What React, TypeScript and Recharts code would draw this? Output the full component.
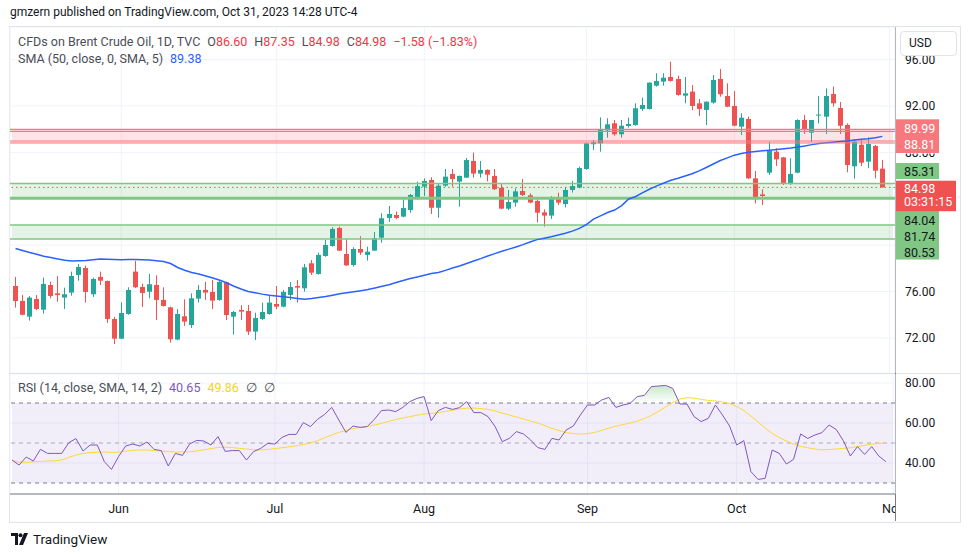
import React from 'react';
import {
  ComposedChart,
  Bar,
  Line,
  Area,
  XAxis,
  YAxis,
  CartesianGrid,
  ReferenceLine,
  ReferenceArea,
} from 'recharts';

// daily candles, mid May -> Oct 31 2023
const OPEN = [
  76.48, 75.19, 73.84, 75.36, 74.44, 76.57, 75.85, 75.48, 75.91, 77.43, 78.03, 75.77, 77.26, 76.91, 73.64, 71.94,
  74.07, 77.72, 76.4, 75.99, 76.57, 75.28, 74.64, 71.86, 73.87, 73.12, 75.39, 76.14, 75.97, 75.28, 76.8, 73.84,
  74.41, 74.33, 72.55, 73.64, 74.07, 74.93, 74.7, 75.71, 76.48, 76.28, 78.44, 77.52, 79.07, 79.93, 81.48, 79.24,
  78.29, 79.67, 79.16, 79.53, 80.65, 82.35, 82.6, 82.46, 83.03, 84.04, 85.05, 85.62, 83.23, 85.13, 86.14, 85.48,
  85.82, 87.26, 86.17, 86.49, 85.97, 84.93, 83.15, 83.67, 84.67, 84.3, 83.81, 82.83, 82.55, 84.04, 83.55, 84.76,
  84.96, 86.57, 88.7, 88.78, 89.9, 90.51, 89.56, 90.28, 90.36, 91.74, 91.74, 93.75, 94.1, 94.5, 94.33, 92.89,
  93.24, 92.23, 91.66, 92.29, 94.33, 92.86, 92.0, 90.22, 90.88, 85.76, 84.38, 86.25, 88.06, 87.57, 85.33, 86.25,
  90.79, 89.7, 91.2, 91.08, 93.03, 91.83, 90.36, 86.8, 88.66, 87.2, 88.55, 86.6,
];
const HIGH = [
  77.26, 75.7, 75.62, 75.7, 77.2, 76.86, 77.34, 76.34, 77.72, 78.38, 78.24, 77.2, 77.72, 76.95, 73.81, 75.08,
  76.37, 78.64, 76.68, 77.52, 77.4, 76.37, 74.7, 74.5, 75.33, 75.85, 76.57, 76.83, 77.0, 77.0, 76.85, 74.33,
  74.82, 74.84, 74.18, 75.05, 75.71, 76.48, 76.14, 76.83, 77.0, 78.38, 78.72, 79.36, 80.45, 81.54, 81.6, 80.54,
  79.82, 80.77, 79.87, 81.14, 82.75, 83.38, 82.89, 83.95, 84.41, 85.48, 85.77, 85.85, 85.33, 86.57, 86.57, 86.0,
  87.52, 87.98, 87.26, 86.54, 86.57, 85.28, 84.76, 84.9, 85.7, 84.47, 84.13, 83.09, 84.24, 84.53, 84.99, 85.53,
  86.77, 88.84, 89.07, 91.02, 90.94, 90.8, 90.8, 90.99, 92.23, 92.72, 94.04, 94.82, 94.82, 95.82, 94.61, 94.5,
  93.81, 92.6, 92.4, 94.67, 95.19, 93.95, 93.29, 91.37, 91.08, 86.4, 84.82, 88.92, 88.35, 87.6, 87.49, 90.85,
  91.22, 90.8, 92.86, 93.52, 93.67, 92.34, 90.5, 89.13, 89.13, 89.3, 88.64, 87.35,
];
const LOW = [
  74.62, 73.95, 73.5, 74.4, 74.1, 75.42, 75.13, 74.5, 75.65, 76.94, 75.05, 75.54, 76.57, 73.3, 71.48, 71.9,
  74.0, 76.3, 74.67, 75.42, 73.55, 74.7, 71.6, 71.8, 73.04, 72.86, 75.05, 75.28, 74.5, 75.2, 73.55, 72.29,
  73.55, 72.26, 71.83, 73.55, 74.0, 74.5, 74.64, 75.28, 75.05, 75.99, 77.43, 77.45, 79.0, 79.87, 79.5, 78.21,
  78.15, 79.16, 78.67, 79.5, 80.22, 82.0, 82.23, 82.4, 82.8, 83.9, 84.24, 82.69, 82.37, 85.05, 85.05, 83.32,
  85.8, 85.82, 85.82, 85.51, 84.76, 83.1, 83.03, 83.32, 84.24, 83.61, 81.97, 81.6, 82.26, 83.47, 83.26, 84.53,
  84.9, 86.5, 88.21, 88.06, 89.27, 89.44, 89.27, 90.13, 90.3, 91.57, 91.7, 93.67, 93.75, 94.1, 92.89, 92.23,
  91.63, 91.14, 90.36, 92.2, 92.8, 91.9, 90.25, 89.5, 85.71, 83.6, 83.47, 86.05, 86.83, 85.19, 85.19, 86.2,
  89.59, 88.9, 90.5, 89.59, 91.94, 89.59, 86.28, 85.73, 86.83, 86.63, 85.76, 84.98,
];
const CLOSE = [
  75.19, 74.0, 75.48, 74.5, 76.66, 75.62, 75.7, 75.77, 77.34, 78.12, 75.97, 77.09, 76.94, 73.64, 71.94, 74.16,
  76.14, 76.37, 75.88, 76.63, 75.28, 74.76, 71.89, 74.07, 73.41, 75.42, 76.14, 75.91, 75.22, 76.83, 73.98, 74.24,
  74.27, 72.55, 73.72, 74.24, 75.05, 74.7, 75.97, 76.4, 76.34, 78.09, 77.63, 79.16, 80.02, 81.4, 79.53, 78.26,
  79.67, 79.36, 79.44, 80.6, 82.32, 82.69, 82.35, 83.2, 84.33, 85.1, 85.54, 83.23, 85.13, 85.91, 85.7, 85.97,
  87.34, 86.17, 86.49, 86.08, 84.82, 83.15, 83.72, 84.64, 84.33, 83.67, 82.8, 82.55, 84.04, 83.67, 84.76, 85.1,
  86.65, 88.78, 88.87, 89.93, 90.42, 89.56, 90.3, 90.45, 91.8, 92.09, 94.01, 94.16, 94.44, 94.16, 92.95, 93.09,
  92.0, 91.74, 92.37, 94.24, 93.01, 91.94, 90.3, 90.99, 85.76, 83.96, 84.24, 88.12, 87.4, 85.33, 86.14, 90.79,
  89.93, 90.79, 91.26, 92.86, 92.23, 90.3, 86.91, 88.92, 87.11, 88.72, 86.42, 84.98,
];
const SMA50 = [
  79.72, 79.54, 79.37, 79.22, 79.05, 78.93, 78.81, 78.7, 78.64, 78.66, 78.67, 78.74, 78.81, 78.78, 78.76, 78.74,
  78.76, 78.76, 78.74, 78.72, 78.66, 78.59, 78.42, 78.08, 77.84, 77.65, 77.52, 77.34, 77.17, 76.98, 76.74, 76.46,
  76.22, 76.01, 75.9, 75.78, 75.69, 75.62, 75.56, 75.48, 75.41, 75.34, 75.4, 75.48, 75.57, 75.69, 75.82, 75.9,
  75.98, 76.07, 76.17, 76.31, 76.46, 76.59, 76.78, 76.96, 77.12, 77.26, 77.41, 77.56, 77.64, 77.83, 78.03, 78.2,
  78.42, 78.64, 78.84, 79.07, 79.27, 79.47, 79.66, 79.84, 80.05, 80.28, 80.48, 80.6, 80.72, 80.88, 81.03, 81.21,
  81.45, 81.78, 82.24, 82.53, 82.82, 83.03, 83.41, 83.98, 84.2, 84.53, 84.84, 85.11, 85.36, 85.6, 85.77, 85.97,
  86.16, 86.41, 86.7, 87.0, 87.3, 87.53, 87.76, 87.91, 88.01, 88.08, 88.14, 88.19, 88.25, 88.31, 88.38, 88.47,
  88.55, 88.67, 88.77, 88.83, 88.88, 88.94, 88.99, 89.06, 89.13, 89.18, 89.26, 89.38,
];
const RSI = [
  41.5, 39, 43, 41, 46.8, 44.8, 44.8, 44.8, 50.2, 52.2, 46, 49, 49, 40.7, 36.8, 43.2,
  48.5, 49.5, 48.5, 50.5, 46.8, 46.2, 38.5, 44.8, 43.8, 49.5, 51.3, 51, 49, 53.2, 45.8, 46.2,
  46.2, 41.5, 45.7, 47.3, 49.8, 49.5, 52.8, 54.3, 54.3, 60.2, 58.2, 61.8, 64.3, 67.8, 61.5, 55.3,
  58.5, 57.8, 58.2, 61.8, 66.2, 66.5, 65.7, 67.8, 70.7, 72.3, 73.2, 61.2, 66.2, 67.8, 66.8, 67.7,
  70.7, 65.2, 65.2, 63.2, 58.2, 50.7, 52.3, 55.7, 54.5, 51.5, 47.7, 46.8, 52.3, 51.5, 56.5, 58.5,
  64, 69, 69, 71.5, 72.8, 67.8, 69, 69.8, 73.2, 73.8, 78.2, 78.5, 78.8, 77.3, 69.5, 69.5,
  63.2, 60.7, 62.3, 69, 64, 58.5, 49, 51.2, 35.7, 31.8, 32.3, 46.5, 44.8, 39.5, 41.8, 54.5,
  52.3, 54, 55.2, 59, 56.8, 51.2, 43.5, 48.2, 44.3, 48.2, 43.5, 40.65,
];
const RSI_MA = [
  41.3, 40.5, 40.3, 40.6, 40.8, 41, 41.1, 41.5, 42.8, 44, 44.8, 45.2, 45.4, 45.5, 45.3, 45.4,
  45.9, 46.3, 46.5, 46.5, 46.2, 46, 45.7, 45.5, 45.5, 45.6, 46, 46.6, 47.2, 47.8, 47.9, 47.7,
  47.3, 47, 46.6, 46.5, 46.8, 47.2, 47.6, 48.1, 48.6, 49.2, 50, 51.2, 52.6, 54, 55.3, 56.3,
  57.2, 57.8, 58.3, 59, 59.8, 60.8, 61.7, 62.5, 63.2, 63.9, 64.5, 64.8, 65.2, 65.8, 66.4, 67,
  67.4, 67.5, 67.2, 66.8, 66, 65, 64, 63, 62, 61, 60, 58.7, 57.3, 56.2, 55.2, 54.7,
  54.5, 54.7, 55.3, 56.3, 57.4, 58.4, 59.2, 60, 61, 62.2, 63.8, 65.8, 68, 70.2, 72, 72.6,
  72.5, 71.8, 71.3, 71, 70.5, 69.8, 68.2, 66.3, 63.5, 60.5, 57.5, 54.8, 52.7, 51, 49.5, 48.3,
  47.6, 47, 46.6, 46.7, 47, 47.3, 47.6, 48.2, 48.8, 49.4, 49.8, 49.86,
];

// first trading day of each month (bar index); the last one is Nov 1, one slot after the data
const MONTH_TICKS = [15, 37, 58, 81, 102, 124];
const MONTH_LABELS = ['Jun', 'Jul', 'Aug', 'Sep', 'Oct', 'Nov'];
const PRICE_TICKS = [72, 76, 80, 84, 88, 92, 96];
const RSI_TICKS = [40, 60, 80];

const RED_ZONE = [88.81, 89.99];
const GREEN_ZONE_HI = [84.04, 85.31];
const GREEN_ZONE_LO = [80.53, 81.74];
const LAST_PRICE = 84.98;
const COUNTDOWN = '03:31:15';

const FONT = "Roboto, 'Liberation Sans', Arial, sans-serif";
const UP = '#26a69a';
const DOWN = '#ef5350';
const GRID = '#f0f3fa';
const AXIS = '#787b86';
const TEXT = '#131722';
const PINK = '#f7787d';
const GREEN_TAG = '#81c784';

const data = Array.from({ length: MONTH_TICKS[MONTH_TICKS.length - 1] + 1 }, (_, i) => {
  const has = i < CLOSE.length;
  return {
    i,
    range: has ? [LOW[i], HIGH[i]] : null,
    open: has ? OPEN[i] : null,
    high: has ? HIGH[i] : null,
    low: has ? LOW[i] : null,
    close: has ? CLOSE[i] : null,
    sma: has ? SMA50[i] : null,
    rsi: has ? RSI[i] : null,
    rsiMa: has ? RSI_MA[i] : null,
    ob: has ? [70, Math.max(70, RSI[i])] : null,
  };
});

function Candle(props: any) {
  const { x, width, payload } = props;
  let { y, height } = props;
  if (!payload || payload.high == null) return null;
  if (height < 0) {
    y += height;
    height = -height;
  }
  const { open, close, high, low } = payload;
  const k = height / (high - low || 1);
  const color = close >= open ? UP : DOWN;
  const yO = y + (high - open) * k;
  const yC = y + (high - close) * k;
  const rx = Math.round(x);
  const cx = rx + Math.floor(width / 2) + 0.5;
  return (
    <g>
      <line x1={cx} x2={cx} y1={y} y2={y + height} stroke={color} strokeWidth={1} />
      <rect x={rx} y={Math.min(yO, yC)} width={Math.round(width)} height={Math.max(1, Math.abs(yO - yC))} fill={color} />
    </g>
  );
}

// price tag on the right scale, shifted from its level so the tags don't overlap
const tag =
  (text: string, bg: string, fg: string, top: number, h: number, cy: number, w = 43, sub?: string, subCy?: number) =>
  (props: any) => {
    const vb = props.viewBox;
    const x = vb.x + vb.width + 1;
    const y = vb.y;
    return (
      <g>
        <rect x={x} y={y + top} width={w} height={h} fill={bg} />
        <text x={x + 8} y={y + cy} dy="0.35em" fill={fg} fontSize={12.5} fontFamily={FONT}>
          {text}
        </text>
        {sub ? (
          <text x={x + 8} y={y + (subCy as number)} dy="0.35em" fill={fg} fontSize={12.5} fontFamily={FONT}>
            {sub}
          </text>
        ) : null}
      </g>
    );
  };

// 80 and 84 sit under the tags; 88 only peeks out below the pink tag
function PriceTick(props: any) {
  const { x, y, payload } = props;
  const v = payload.value;
  if (v === 80 || v === 84) return <g />;
  const clip = v === 88;
  return (
    <g>
      {clip ? (
        <defs>
          <clipPath id="tick88">
            <rect x={x - 2} y={y + 1} width={60} height={12} />
          </clipPath>
        </defs>
      ) : null}
      <text x={x} y={y} dy="0.35em" fill={TEXT} fontSize={12} fontFamily={FONT} clipPath={clip ? 'url(#tick88)' : undefined}>
        {v.toFixed(2)}
      </text>
    </g>
  );
}

function RsiTick(props: any) {
  const { x, y, payload } = props;
  return (
    <text x={x} y={y} dy="0.35em" fill={TEXT} fontSize={12} fontFamily={FONT}>
      {payload.value.toFixed(2)}
    </text>
  );
}

function TimeTick(props: any) {
  const { x, y, payload } = props;
  const label = MONTH_LABELS[MONTH_TICKS.indexOf(payload.value)];
  return (
    <text x={x} y={y} dy="0.71em" textAnchor="middle" fill={TEXT} fontSize={12.5} fontFamily={FONT} clipPath="url(#timeClip)">
      {label}
    </text>
  );
}

export default function App() {
  return (
    <div style={{ position: 'fixed', left: 0, top: 0, width: 970, height: 557, background: '#fff', fontFamily: FONT, color: TEXT, overflow: 'hidden' }}>
      <div style={{ position: 'absolute', left: 10, top: 5, fontSize: 12 }}>
        gmzern published on TradingView.com, Oct 31, 2023 14:28 UTC-4
      </div>

      {/* frame */}
      <div style={{ position: 'absolute', left: 9, top: 26, width: 950, height: 495, border: '1px solid #e0e3eb' }} />
      <div style={{ position: 'absolute', left: 10, top: 373, width: 950, height: 1, background: '#e0e3eb' }} />
      <div style={{ position: 'absolute', left: 895, top: 27, width: 1, height: 494, background: AXIS }} />

      <div style={{ position: 'absolute', left: 0, top: 27 }}>
        <ComposedChart width={960} height={346} data={data} margin={{ top: 0, right: 0, left: 10, bottom: 0 }} barCategoryGap={0}>
          <CartesianGrid stroke={GRID} />
          <XAxis dataKey="i" type="category" hide padding={{ left: 2, right: 2 }} ticks={MONTH_TICKS} interval={0} />
          <YAxis
            orientation="right"
            width={65}
            domain={[68.98, 98.81]}
            allowDataOverflow
            ticks={PRICE_TICKS}
            tick={<PriceTick />}
            axisLine={false}
            tickLine={false}
            tickMargin={4}
          />
          <ReferenceArea y1={RED_ZONE[0]} y2={RED_ZONE[1]} fill="#f23645" fillOpacity={0.13} stroke="none" />
          <ReferenceArea y1={GREEN_ZONE_HI[0]} y2={GREEN_ZONE_HI[1]} fill="#4caf50" fillOpacity={0.15} stroke="none" />
          <ReferenceArea y1={GREEN_ZONE_LO[0]} y2={GREEN_ZONE_LO[1]} fill="#4caf50" fillOpacity={0.15} stroke="none" />
          <ReferenceLine y={RED_ZONE[1] - 0.17} stroke={PINK} strokeWidth={1.2} />
          <ReferenceLine y={RED_ZONE[0] + 0.17} stroke={PINK} strokeWidth={1.2} />
          <ReferenceLine y={GREEN_ZONE_LO[1]} stroke={GREEN_TAG} strokeWidth={1.5} label={tag('81.74', GREEN_TAG, TEXT, 2, 18, 11.8)} />
          <ReferenceLine y={GREEN_ZONE_LO[0]} stroke={GREEN_TAG} strokeWidth={1.5} label={tag('80.53', GREEN_TAG, TEXT, 5, 15.5, 13.8)} />
          <ReferenceLine y={GREEN_ZONE_HI[1]} stroke={GREEN_TAG} strokeWidth={1.5} label={tag('85.31', GREEN_TAG, TEXT, -20.6, 16, -12)} />
          <ReferenceLine y={GREEN_ZONE_HI[0]} stroke={GREEN_TAG} strokeWidth={3} label={tag('84.04', GREEN_TAG, TEXT, 12.7, 16, 22.4)} />
          <Bar dataKey="range" shape={<Candle />} barSize={5} isAnimationActive={false} />
          <Line dataKey="sma" stroke="#2962ff" strokeWidth={1.5} dot={false} activeDot={false} isAnimationActive={false} />
          <ReferenceLine y={RED_ZONE[1]} stroke={PINK} strokeWidth={1.2} label={tag('89.99', PINK, '#fff', -10, 17, -0.6)} />
          <ReferenceLine y={RED_ZONE[0]} stroke={PINK} strokeWidth={1.2} label={tag('88.81', PINK, '#fff', -7, 17, 2)} />
          <ReferenceLine
            y={LAST_PRICE}
            stroke={DOWN}
            strokeDasharray="1.5 3"
            label={tag(LAST_PRICE.toFixed(2), '#f05252', '#fff', -6.7, 30.5, 1.6, 60, COUNTDOWN, 14.3)}
          />
        </ComposedChart>
      </div>

      <div style={{ position: 'absolute', left: 0, top: 374 }}>
        <ComposedChart width={960} height={147} data={data} margin={{ top: 0, right: 0, left: 10, bottom: 0 }}>
          <defs>
            <clipPath id="timeClip">
              <rect x={0} y={0} width={895} height={147} />
            </clipPath>
            <linearGradient id="obGrad" gradientUnits="userSpaceOnUse" x1="0" y1="-31" x2="0" y2="29">
              <stop offset="0" stopColor="#4caf50" stopOpacity={1} />
              <stop offset="1" stopColor="#4caf50" stopOpacity={0} />
            </linearGradient>
          </defs>
          <CartesianGrid stroke={GRID} />
          <XAxis
            dataKey="i"
            type="category"
            height={27}
            padding={{ left: 2, right: 2 }}
            ticks={MONTH_TICKS}
            interval={0}
            tick={<TimeTick />}
            tickLine={false}
            axisLine={{ stroke: AXIS }}
            tickMargin={4}
          />
          <YAxis
            orientation="right"
            width={65}
            domain={[24.5, 84.5]}
            allowDataOverflow
            ticks={RSI_TICKS}
            tick={<RsiTick />}
            axisLine={false}
            tickLine={false}
            tickMargin={4}
          />
          <ReferenceArea y1={30} y2={70} fill="#7e57c2" fillOpacity={0.1} stroke="none" />
          <ReferenceLine y={70} stroke={AXIS} strokeDasharray="4 4" />
          <ReferenceLine y={50} stroke={AXIS} strokeOpacity={0.6} strokeDasharray="4 4" />
          <ReferenceLine y={30} stroke={AXIS} strokeDasharray="4 4" />
          <Area dataKey="ob" type="linear" stroke="none" fill="url(#obGrad)" fillOpacity={1} isAnimationActive={false} dot={false} activeDot={false} />
          <Line dataKey="rsiMa" stroke="#fdd835" strokeWidth={1} dot={false} activeDot={false} isAnimationActive={false} />
          <Line dataKey="rsi" stroke="#7e57c2" strokeWidth={1} dot={false} activeDot={false} isAnimationActive={false} />
        </ComposedChart>
      </div>

      {/* legends */}
      <div style={{ position: 'absolute', left: 18, top: 34, fontSize: 12.5, color: '#4a4d57', whiteSpace: 'nowrap' }}>
        CFDs on Brent Crude Oil, 1D, TVC
        <span style={{ marginLeft: 7 }}>O</span><span style={{ color: '#f23645' }}>86.60</span>
        <span style={{ marginLeft: 7 }}>H</span><span style={{ color: '#f23645' }}>87.35</span>
        <span style={{ marginLeft: 7 }}>L</span><span style={{ color: '#f23645' }}>84.98</span>
        <span style={{ marginLeft: 7 }}>C</span><span style={{ color: '#f23645' }}>84.98</span>
        <span style={{ marginLeft: 7, color: '#f23645' }}>−1.58 (−1.83%)</span>
      </div>
      <div style={{ position: 'absolute', left: 18, top: 51, fontSize: 12.5, color: '#4a4d57', whiteSpace: 'nowrap' }}>
        SMA (50, close, 0, SMA, 5)<span style={{ marginLeft: 7, color: '#2962ff' }}>89.38</span>
      </div>
      <div style={{ position: 'absolute', left: 18, top: 380, fontSize: 12.5, color: '#4a4d57', whiteSpace: 'nowrap' }}>
        RSI (14, close, SMA, 14, 2)
        <span style={{ marginLeft: 7, color: '#7e57c2' }}>40.65</span>
        <span style={{ marginLeft: 7, color: '#f5d21f' }}>49.86</span>
        <span style={{ marginLeft: 7 }}>∅</span>
        <span style={{ marginLeft: 7 }}>∅</span>
      </div>

      {/* currency button */}
      <div
        style={{
          position: 'absolute',
          left: 900,
          top: 31,
          width: 47,
          height: 23,
          border: '1px solid #e0e3eb',
          borderRadius: 4,
          background: '#fff',
          fontSize: 12,
          lineHeight: '23px',
          paddingLeft: 8,
          boxSizing: 'content-box',
        }}
      >
        USD
      </div>

      {/* footer logo */}
      <svg style={{ position: 'absolute', left: 11, top: 533 }} width={20} height={14}>
        <path d="M0 0h7v12H4V3H0z" fill={TEXT} />
        <circle cx={9.5} cy={2.2} r={2} fill={TEXT} />
        <path d="M13 0h4l-5 12H8z" fill={TEXT} />
      </svg>
      <div style={{ position: 'absolute', left: 33, top: 531, fontSize: 13.5, color: TEXT }}>TradingView</div>
    </div>
  );
}
